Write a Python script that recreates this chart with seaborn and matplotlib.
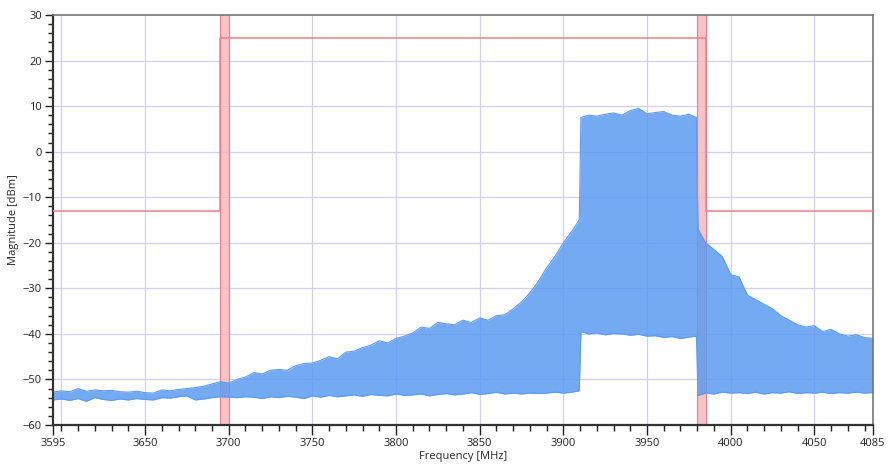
import numpy as np
import pandas as pd
import matplotlib
matplotlib.use("Agg")
import matplotlib.pyplot as plt
import seaborn as sns
from matplotlib.ticker import MultipleLocator

# spectrum envelope (MHz, dBm)
freq = [3595, 3600, 3605, 3610, 3615, 3620, 3625, 3630, 3635, 3640, 3645, 3650,
        3655, 3660, 3665, 3670, 3675, 3680, 3685, 3690, 3695, 3700, 3705, 3710,
        3715, 3720, 3725, 3730, 3735, 3740, 3745, 3750, 3755, 3760, 3765, 3770,
        3775, 3780, 3785, 3790, 3795, 3800, 3805, 3810, 3815, 3820, 3825, 3830,
        3835, 3840, 3845, 3850, 3855, 3860, 3865, 3870, 3875, 3880, 3885, 3890,
        3895, 3900, 3905, 3909.5, 3910.5, 3915, 3920, 3925, 3930, 3935, 3940,
        3945, 3950, 3955, 3960, 3965, 3970, 3975, 3979.5, 3980.5, 3985, 3990,
        3995, 4000, 4005, 4010, 4015, 4020, 4025, 4030, 4035, 4040, 4045, 4050,
        4055, 4060, 4065, 4070, 4075, 4080, 4085]
upper = [-52.8, -52.5, -52.7, -52.0, -52.6, -52.3, -52.5, -52.4, -52.7, -52.8, -52.6, -52.9,
         -53.0, -52.3, -52.5, -52.2, -52.0, -51.8, -51.5, -51.0, -50.5, -50.8, -50.0, -49.5,
         -48.5, -48.8, -48.0, -47.8, -48.0, -47.0, -46.5, -46.4, -45.8, -45.0, -45.5, -44.0,
         -43.8, -43.0, -42.5, -41.5, -42.0, -41.0, -40.5, -39.8, -38.5, -38.8, -37.5, -37.8,
         -38.0, -37.0, -37.5, -36.5, -37.0, -36.0, -35.8, -34.5, -33.0, -31.0, -28.5, -25.5,
         -23.0, -20.0, -17.5, -15.0, 7.5, 8.0, 7.8, 8.2, 8.5, 8.0, 9.0,
         9.5, 8.3, 8.6, 8.8, 8.0, 7.8, 8.2, 7.5, -17.0, -20.0, -21.5,
         -23.0, -27.0, -27.5, -31.5, -32.5, -33.5, -34.5, -36.0, -37.0, -38.0, -38.5, -38.2,
         -39.5, -39.0, -40.0, -40.5, -40.2, -40.8, -41.0]
lower = [-54.5, -54.3, -54.6, -54.2, -54.8, -54.0, -54.4, -54.6, -54.3, -54.5, -54.2, -54.4,
         -54.5, -54.0, -54.1, -53.8, -53.6, -54.5, -54.3, -54.0, -53.8, -53.9, -54.0, -53.8,
         -53.9, -54.2, -53.8, -54.0, -53.7, -53.9, -54.2, -53.6, -53.9, -53.5, -53.8, -53.6,
         -53.4, -53.7, -53.3, -53.5, -53.6, -53.2, -53.5, -53.4, -53.2, -53.6, -53.3, -53.1,
         -53.4, -53.2, -52.9, -53.3, -53.1, -52.8, -53.2, -53.0, -53.2, -53.0, -53.1, -53.0,
         -52.8, -53.0, -52.8, -52.5, -39.5, -40.0, -39.8, -40.2, -39.9, -40.0, -40.3,
         -40.1, -40.5, -40.4, -40.8, -40.6, -41.0, -40.7, -40.5, -53.5, -53.0, -53.2,
         -52.8, -53.0, -52.9, -53.1, -52.8, -53.2, -52.9, -53.0, -52.7, -53.1, -52.9, -53.0,
         -52.8, -53.1, -52.9, -53.0, -52.8, -53.0, -52.9]

# emission mask
mask_freq = [3595, 3695, 3695, 3985, 3985, 4085]
mask_level = [-13, -13, 25, 25, -13, -13]
bands = [(3695, 3700), (3980, 3985)]

df = pd.DataFrame({"freq": freq, "upper": upper, "lower": lower})
mask = pd.DataFrame({"freq": mask_freq, "level": mask_level})

sns.set_style("white")
plt.rcParams["font.family"] = ["Open Sans", "DejaVu Sans"]

fig = plt.figure(figsize=(8.88, 4.68), dpi=100)
ax = fig.add_axes([0.0597, 0.0919, 0.9233, 0.8761])

grid_c = "#d2cff2"
for v in range(3600, 4085, 50):
    ax.axvline(v, color=grid_c, lw=0.9, zorder=0)
for v in range(-50, 30, 10):
    ax.axhline(v, color=grid_c, lw=0.9, zorder=0)

# red guard bands
for a, b in bands:
    ax.axvspan(a, b, color="#f7b8bc", alpha=0.85, lw=0, zorder=1)
    ax.axvline(a, color="#e88088", lw=0.8, zorder=1)
    ax.axvline(b, color="#e88088", lw=0.8, zorder=1)

blue = "#5b9bf0"
ax.fill_between(df["freq"], df["lower"], df["upper"], color=blue, alpha=0.85, lw=0, zorder=2)
sns.lineplot(data=df, x="freq", y="upper", color=blue, lw=0.8, ax=ax, zorder=2)
sns.lineplot(data=df, x="freq", y="lower", color=blue, lw=0.8, ax=ax, zorder=2)

sns.lineplot(data=mask, x="freq", y="level", color="#f08088", lw=1.1, ax=ax,
             sort=False, estimator=None, zorder=3)

ax.set_xlim(3595, 4085)
ax.set_ylim(-60, 30)
ax.set_xticks([3595, 3650, 3700, 3750, 3800, 3850, 3900, 3950, 4000, 4050, 4085])
ax.set_yticks(range(-60, 31, 10))
ax.xaxis.set_minor_locator(MultipleLocator(10))
ax.yaxis.set_minor_locator(MultipleLocator(2))
ax.tick_params(axis="x", which="major", direction="out", length=7.5, width=1, labelsize=8,
               pad=2, bottom=True, colors="#222222")
ax.tick_params(axis="x", which="minor", direction="out", length=4, width=1, bottom=True,
               colors="#222222")
ax.tick_params(axis="y", which="major", direction="out", length=6, width=1, labelsize=8,
               pad=2, left=True, colors="#222222")
ax.tick_params(axis="y", which="minor", direction="out", length=3.5, width=1, left=True,
               colors="#222222")
for s in ["left", "bottom"]:
    ax.spines[s].set_color("#333333")
    ax.spines[s].set_linewidth(1.6)
for s in ["top", "right"]:
    ax.spines[s].set_color("#777777")
    ax.spines[s].set_linewidth(1.2)

ax.set_xlabel("Frequency [MHz]", fontsize=8, labelpad=1)
ax.set_ylabel("Magnitude [dBm]", fontsize=8, labelpad=3)

fig.savefig("out.png", dpi=100)
